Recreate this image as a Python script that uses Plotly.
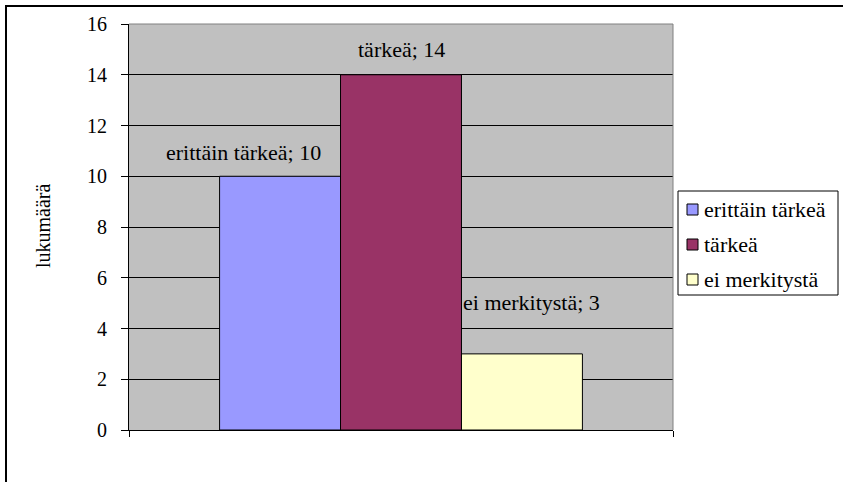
import plotly.graph_objects as go

# Survey answers: how many respondents picked each importance level
categories = ["erittäin tärkeä", "tärkeä", "ei merkitystä"]
counts = [10, 14, 3]
colors = ["#9999FF", "#993366", "#FFFFCC"]

y_ticks = [0, 2, 4, 6, 8, 10, 12, 14, 16]
y_title = "lukumäärä"

FONT = "Liberation Serif, Times New Roman, serif"
W, H = 843, 482
L, R, T, B = 129, 170, 24, 52
PW, PH = W - L - R, H - T - B


def px(x):
    """Horizontal pixel -> paper coordinate."""
    return (x - L) / PW


def py(y):
    """Vertical pixel (from top) -> paper coordinate."""
    return (H - B - y) / PH


fig = go.Figure()
for name, val, col in zip(categories, counts, colors):
    fig.add_trace(go.Bar(
        x=[""], y=[val], name=name, showlegend=False,
        marker=dict(color=col, line=dict(color="black", width=1)),
    ))

# Value labels above each bar ("name; value")
bargap = 0.333
bar_w = (1 - bargap) / len(categories)
offsets = [(i - (len(categories) - 1) / 2) * bar_w for i in range(len(categories))]
label_dx = [-37, 0, 10]
label_dy = [24, 25, 51]
for name, val, off, dx, dy in zip(categories, counts, offsets, label_dx, label_dy):
    fig.add_annotation(
        x=off, y=val, xref="x", yref="y", text=f"{name}; {val}",
        showarrow=False, xshift=dx, yshift=dy, yanchor="middle",
        font=dict(family=FONT, size=22, color="black"),
    )

# Axis title
fig.add_annotation(
    x=px(43), y=py(226), xref="paper", yref="paper",
    text=y_title, textangle=-90, showarrow=False,
    xanchor="center", yanchor="middle",
    font=dict(family=FONT, size=20, color="black"),
)

# Grey frame on the top and right of the plot area
fig.add_shape(type="line", xref="paper", yref="paper", x0=0, x1=1, y0=1, y1=1,
              line=dict(color="#808080", width=1), layer="above")
fig.add_shape(type="line", xref="paper", yref="paper", x0=1, x1=1, y0=0, y1=1,
              line=dict(color="#808080", width=1), layer="above")

# Outer chart border
fig.add_shape(type="rect", xref="paper", yref="paper",
              x0=px(6), x1=px(860), y0=py(500), y1=py(6),
              line=dict(color="black", width=2), layer="above")

# Legend box with a swatch and label per category
fig.add_shape(type="rect", xref="paper", yref="paper",
              x0=px(678), x1=px(838), y0=py(295), y1=py(191),
              line=dict(color="black", width=1), fillcolor="white", layer="above")
legend_top, legend_step = 209.5, 35
for i, (name, col) in enumerate(zip(categories, colors)):
    cy = legend_top + i * legend_step
    fig.add_shape(type="rect", xref="paper", yref="paper",
                  x0=px(687), x1=px(698), y0=py(cy + 5.5), y1=py(cy - 5.5),
                  line=dict(color="black", width=1), fillcolor=col, layer="above")
    fig.add_annotation(
        x=px(702), y=py(cy), xref="paper", yref="paper",
        text=name, showarrow=False, xanchor="left", yanchor="middle",
        font=dict(family=FONT, size=22, color="black"),
    )

fig.update_layout(
    width=W, height=H,
    margin=dict(l=L, r=R, t=T, b=B, autoexpand=False),
    paper_bgcolor="white", plot_bgcolor="#C0C0C0",
    barmode="group", bargap=bargap, bargroupgap=0,
    font=dict(family=FONT, size=20, color="black"),
    showlegend=False,
    xaxis=dict(
        showline=True, linecolor="black", linewidth=1,
        ticks="outside", ticklen=6, tickcolor="black",
        tickson="boundaries", showticklabels=False,
        showgrid=False, zeroline=False,
        range=[-0.5, 0.5],
    ),
    yaxis=dict(
        range=[0, 16], tickvals=y_ticks,
        showline=True, linecolor="black", linewidth=1,
        ticks="outside", ticklen=7, tickcolor="black",
        showgrid=True, gridcolor="black", gridwidth=1,
        zeroline=False,
        tickfont=dict(family=FONT, size=20, color="black"),
        ticklabelstandoff=10,
    ),
)

fig.write_html("out.html")
